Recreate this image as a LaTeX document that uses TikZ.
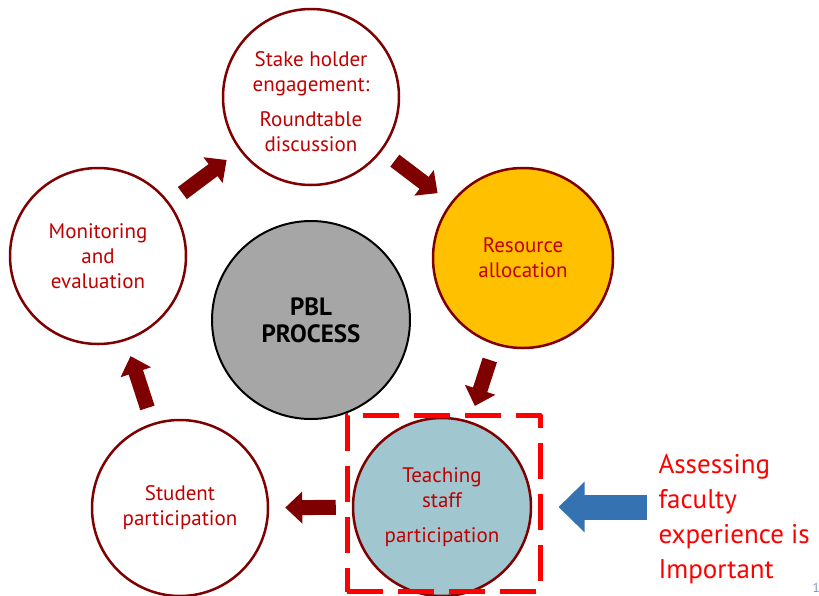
\documentclass[tikz,border=0pt]{standalone}
\usepackage{fontspec}
\setmainfont{PT Sans}
\usetikzlibrary{arrows.meta}
\definecolor{ringred}{RGB}{127,0,0}
\definecolor{labelred}{RGB}{192,0,0}
\definecolor{resgold}{RGB}{255,192,0}
\definecolor{staffblue}{RGB}{160,199,208}
\definecolor{pblgray}{RGB}{166,166,166}
\definecolor{hintblue}{RGB}{52,114,178}
\begin{document}
\begin{tikzpicture}[x=1pt,y=-1pt,line join=round,
    stage/.style={circle,draw=ringred,line width=2.5pt,minimum size=176pt,inner sep=0pt,
      text=labelred,align=center,font=\fontsize{21}{25}\selectfont},
    flow/.style={draw=ringred,line width=15pt,-{Triangle[length=17pt,width=31pt]},
      shorten <=16pt,shorten >=16pt},
    frame/.style={draw=red,line width=5pt,dash pattern=on 36pt off 15pt,
      minimum width=193pt,minimum height=176pt,inner sep=0pt}]
  \useasboundingbox (0,0) rectangle (819,595);
  % stages of the cycle
  \node[stage] (stake) at (311,97) {\mbox{}\\[0pt]Stake holder\\engagement:\\[10pt]Roundtable\\discussion};
  \node[stage,fill=resgold,minimum size=180pt] (resource) at (523,258) {Resource\\allocation};
  \node[stage,fill=staffblue,minimum size=178pt] (staff) at (442,507) {Teaching\\staff\\[10pt]participation};
  \node[stage] (student) at (180,508) {Student\\participation};
  \node[stage] (monitor) at (98,256) {Monitoring\\and\\evaluation};
  \node[circle,draw=black,line width=2pt,fill=pblgray,minimum size=198pt,inner sep=0pt,
    align=center,font=\fontsize{25}{27}\selectfont\bfseries] (pbl) at (311,320) {PBL\\PROCESS};
  % arrows between stages
  \draw[flow] (monitor) -- (stake);
  \draw[flow] (stake) -- (resource);
  \draw[flow] (resource) -- (staff);
  \draw[flow] (staff) -- (student);
  \draw[flow] (student) -- (monitor);
  % highlight
  \node[frame] (box) at (443.5,503.5) {};
  \coordinate (tail) at (647,507);
  \draw[draw=hintblue,line width=25pt,-{Triangle[length=26pt,width=49pt]},shorten >=16pt] (tail) -- (box.east |- tail);
  \node[anchor=north west,text=red,align=left,font=\fontsize{27}{35}\selectfont] (note) at (655,451)
    {Assessing\\faculty\\experience is\\Important};
  \node[anchor=base west,text=hintblue!70,font=\fontsize{13}{15}\selectfont] (page) at (809,592) {1};
\end{tikzpicture}
\end{document}
